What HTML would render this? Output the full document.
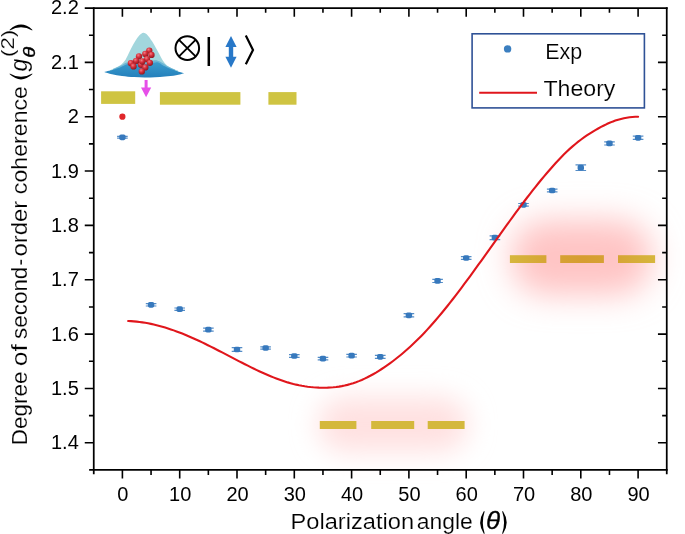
<!DOCTYPE html>
<html><head><meta charset="utf-8"><title>g2 vs polarization angle</title>
<style>html,body{margin:0;padding:0;background:#fff;}body{width:685px;height:534px;overflow:hidden;}svg{display:block;will-change:transform;}text{font-family:"Liberation Sans",sans-serif;fill:#000;}</style>
</head><body>
<svg width="685" height="534" viewBox="0 0 685 534">
<defs>
<radialGradient id="sph" cx="38%" cy="32%" r="70%"><stop offset="0" stop-color="#f08088"/><stop offset="0.45" stop-color="#d8303c"/><stop offset="1" stop-color="#8c1820"/></radialGradient>
<linearGradient id="barO" gradientUnits="userSpaceOnUse" x1="510" x2="655" y1="0" y2="0"><stop offset="0" stop-color="#d6b63c"/><stop offset="0.3" stop-color="#d6a234"/><stop offset="0.5" stop-color="#d69d31"/><stop offset="0.7" stop-color="#d6a234"/><stop offset="1" stop-color="#d6b63c"/></linearGradient>
<linearGradient id="base" x1="0" x2="0" y1="0" y2="1"><stop offset="0" stop-color="#3a9ccc"/><stop offset="1" stop-color="#2480bc"/></linearGradient>
<filter id="blurA" x="-50%" y="-100%" width="200%" height="300%"><feGaussianBlur stdDeviation="16"/></filter>
<filter id="blurB" x="-50%" y="-120%" width="200%" height="340%"><feGaussianBlur stdDeviation="13.5"/></filter>
</defs>
<rect width="685" height="534" fill="#fff"/>
<rect x="511" y="220" width="141" height="75" rx="35" ry="35" fill="#ffc4c4" filter="url(#blurA)"/>
<rect x="318" y="397" width="150" height="55" rx="27" ry="27" fill="#ffe1e1" filter="url(#blurB)"/>
<rect x="101.1" y="91.3" width="34.1" height="12.6" fill="#cfc442"/>
<rect x="159.9" y="92.1" width="80.5" height="12.6" fill="#cfc442"/>
<rect x="268.4" y="92.1" width="28.1" height="12.6" fill="#cfc442"/>
<rect x="509.9" y="255.2" width="36.5" height="7.8" fill="url(#barO)"/>
<rect x="560.2" y="255.2" width="43.7" height="7.8" fill="url(#barO)"/>
<rect x="618" y="255.2" width="37.1" height="7.8" fill="url(#barO)"/>
<rect x="319.8" y="421" width="36.6" height="8" fill="#d4b83c"/>
<rect x="371.2" y="421" width="43.0" height="8" fill="#d4b83c"/>
<rect x="427.7" y="421" width="36.9" height="8" fill="#d4b83c"/>
<g stroke="#3779bd" stroke-width="1.2" fill="#3779bd">
<path d="M117.1,136.4H127.7M117.1,138.2H127.7" fill="none" stroke-opacity="0.85"/>
<rect x="119.20" y="134.45" width="6.4" height="5.7" rx="1.8" ry="1.8" stroke="none"/>
<path d="M145.8,303.6H156.4M145.8,306.0H156.4" fill="none" stroke-opacity="0.85"/>
<rect x="147.85" y="301.95" width="6.4" height="5.7" rx="1.8" ry="1.8" stroke="none"/>
<path d="M174.4,308.0H185.0M174.4,310.4H185.0" fill="none" stroke-opacity="0.85"/>
<rect x="176.50" y="306.35" width="6.4" height="5.7" rx="1.8" ry="1.8" stroke="none"/>
<path d="M203.1,328.1H213.7M203.1,331.1H213.7" fill="none" stroke-opacity="0.85"/>
<rect x="205.15" y="326.75" width="6.4" height="5.7" rx="1.8" ry="1.8" stroke="none"/>
<path d="M231.7,347.7H242.3M231.7,351.3H242.3" fill="none" stroke-opacity="0.85"/>
<rect x="233.80" y="346.65" width="6.4" height="5.7" rx="1.8" ry="1.8" stroke="none"/>
<path d="M260.3,346.8H270.9M260.3,349.2H270.9" fill="none" stroke-opacity="0.85"/>
<rect x="262.45" y="345.15" width="6.4" height="5.7" rx="1.8" ry="1.8" stroke="none"/>
<path d="M289.0,354.6H299.6M289.0,357.4H299.6" fill="none" stroke-opacity="0.85"/>
<rect x="291.10" y="353.15" width="6.4" height="5.7" rx="1.8" ry="1.8" stroke="none"/>
<path d="M317.7,357.4H328.3M317.7,359.8H328.3" fill="none" stroke-opacity="0.85"/>
<rect x="319.75" y="355.75" width="6.4" height="5.7" rx="1.8" ry="1.8" stroke="none"/>
<path d="M346.3,354.4H356.9M346.3,357.0H356.9" fill="none" stroke-opacity="0.85"/>
<rect x="348.40" y="352.85" width="6.4" height="5.7" rx="1.8" ry="1.8" stroke="none"/>
<path d="M374.9,355.3H385.6M374.9,358.3H385.6" fill="none" stroke-opacity="0.85"/>
<rect x="377.05" y="353.95" width="6.4" height="5.7" rx="1.8" ry="1.8" stroke="none"/>
<path d="M403.6,313.7H414.2M403.6,316.9H414.2" fill="none" stroke-opacity="0.85"/>
<rect x="405.70" y="312.45" width="6.4" height="5.7" rx="1.8" ry="1.8" stroke="none"/>
<path d="M432.3,279.3H442.9M432.3,282.5H442.9" fill="none" stroke-opacity="0.85"/>
<rect x="434.35" y="278.05" width="6.4" height="5.7" rx="1.8" ry="1.8" stroke="none"/>
<path d="M460.9,256.7H471.5M460.9,259.3H471.5" fill="none" stroke-opacity="0.85"/>
<rect x="463.00" y="255.15" width="6.4" height="5.7" rx="1.8" ry="1.8" stroke="none"/>
<path d="M489.6,235.8H500.2M489.6,239.6H500.2" fill="none" stroke-opacity="0.85"/>
<rect x="491.65" y="234.85" width="6.4" height="5.7" rx="1.8" ry="1.8" stroke="none"/>
<path d="M518.2,203.5H528.8M518.2,206.1H528.8" fill="none" stroke-opacity="0.85"/>
<rect x="520.30" y="201.95" width="6.4" height="5.7" rx="1.8" ry="1.8" stroke="none"/>
<path d="M546.9,189.1H557.5M546.9,191.9H557.5" fill="none" stroke-opacity="0.85"/>
<rect x="548.95" y="187.65" width="6.4" height="5.7" rx="1.8" ry="1.8" stroke="none"/>
<path d="M575.5,164.9H586.1M575.5,170.5H586.1" fill="none" stroke-opacity="0.85"/>
<rect x="577.60" y="164.85" width="6.4" height="5.7" rx="1.8" ry="1.8" stroke="none"/>
<path d="M604.2,141.8H614.8M604.2,145.0H614.8" fill="none" stroke-opacity="0.85"/>
<rect x="606.25" y="140.55" width="6.4" height="5.7" rx="1.8" ry="1.8" stroke="none"/>
<path d="M632.8,136.2H643.4M632.8,139.4H643.4" fill="none" stroke-opacity="0.85"/>
<rect x="634.90" y="134.95" width="6.4" height="5.7" rx="1.8" ry="1.8" stroke="none"/>
</g>
<path d="M128.13,320.98 L130.98,321.13 L133.83,321.35 L136.68,321.62 L139.53,321.96 L142.37,322.35 L145.22,322.81 L148.07,323.32 L150.92,323.89 L153.77,324.52 L156.62,325.20 L159.47,325.93 L162.32,326.72 L165.17,327.56 L168.02,328.45 L170.86,329.39 L173.71,330.38 L176.56,331.41 L179.41,332.48 L182.26,333.60 L185.11,334.76 L187.96,335.95 L190.81,337.18 L193.66,338.45 L196.51,339.75 L199.35,341.07 L202.20,342.42 L205.05,343.80 L207.90,345.20 L210.75,346.62 L213.60,348.06 L216.45,349.51 L219.30,350.97 L222.15,352.44 L225.00,353.92 L227.84,355.41 L230.69,356.89 L233.54,358.37 L236.39,359.85 L239.24,361.32 L242.09,362.79 L244.94,364.23 L247.79,365.67 L250.64,367.08 L253.49,368.47 L256.33,369.84 L259.18,371.18 L262.03,372.49 L264.88,373.77 L267.73,375.01 L270.58,376.21 L273.43,377.37 L276.28,378.48 L279.13,379.54 L281.98,380.54 L284.82,381.49 L287.67,382.38 L290.52,383.20 L293.37,383.96 L296.22,384.65 L299.07,385.27 L301.92,385.82 L304.77,386.30 L307.62,386.71 L310.47,387.05 L313.31,387.32 L316.16,387.52 L319.01,387.66 L321.86,387.73 L324.71,387.73 L327.56,387.66 L330.41,387.51 L333.26,387.29 L336.11,386.99 L338.96,386.60 L341.80,386.12 L344.65,385.54 L347.50,384.87 L350.35,384.10 L353.20,383.22 L356.05,382.23 L358.90,381.14 L361.75,379.95 L364.60,378.66 L367.45,377.27 L370.29,375.79 L373.14,374.21 L375.99,372.56 L378.84,370.82 L381.69,369.00 L384.54,367.10 L387.39,365.13 L390.24,363.09 L393.09,360.98 L395.94,358.79 L398.78,356.53 L401.63,354.20 L404.48,351.79 L407.33,349.30 L410.18,346.73 L413.03,344.09 L415.88,341.36 L418.73,338.54 L421.58,335.65 L424.43,332.68 L427.27,329.62 L430.12,326.49 L432.97,323.29 L435.82,320.01 L438.67,316.66 L441.52,313.25 L444.37,309.77 L447.22,306.24 L450.07,302.64 L452.92,299.00 L455.76,295.31 L458.61,291.58 L461.46,287.80 L464.31,283.99 L467.16,280.14 L470.01,276.26 L472.86,272.36 L475.71,268.43 L478.56,264.48 L481.41,260.52 L484.25,256.54 L487.10,252.55 L489.95,248.56 L492.80,244.56 L495.65,240.57 L498.50,236.58 L501.35,232.60 L504.20,228.63 L507.05,224.68 L509.90,220.75 L512.74,216.84 L515.59,212.96 L518.44,209.10 L521.29,205.28 L524.14,201.50 L526.99,197.76 L529.84,194.06 L532.69,190.41 L535.54,186.81 L538.39,183.26 L541.23,179.77 L544.08,176.35 L546.93,172.98 L549.78,169.69 L552.63,166.46 L555.48,163.31 L558.33,160.24 L561.18,157.24 L564.03,154.33 L566.88,151.54 L569.72,148.88 L572.57,146.35 L575.42,143.95 L578.27,141.66 L581.12,139.49 L583.97,137.42 L586.82,135.46 L589.67,133.59 L592.52,131.81 L595.37,130.11 L598.21,128.50 L601.06,126.95 L603.91,125.47 L606.76,124.08 L609.61,122.80 L612.46,121.65 L615.31,120.61 L618.16,119.69 L621.01,118.90 L623.86,118.22 L626.70,117.67 L629.55,117.24 L632.40,116.93 L635.25,116.74 L638.10,116.68" fill="none" stroke="#e0161c" stroke-width="2.1" stroke-linecap="round" stroke-linejoin="round"/>
<circle cx="122.4" cy="116.7" r="3.1" fill="#e0262a"/>
<g stroke="#000" stroke-width="1.75" fill="none" stroke-linecap="butt">
<path d="M93.75,7.13V474.28"/>
<path d="M666.75,7.13V474.28"/>
<path d="M84.75,8.00H667.62"/>
<path d="M89.15,469.98H667.62"/>
</g>
<g stroke="#000" stroke-width="1.6" fill="none">
<path d="M122.40,469.98v8.6M122.40,8.00v8.8"/>
<path d="M151.05,469.98v5M151.05,8.00v4.8"/>
<path d="M179.70,469.98v8.6M179.70,8.00v8.8"/>
<path d="M208.35,469.98v5M208.35,8.00v4.8"/>
<path d="M237.00,469.98v8.6M237.00,8.00v8.8"/>
<path d="M265.65,469.98v5M265.65,8.00v4.8"/>
<path d="M294.30,469.98v8.6M294.30,8.00v8.8"/>
<path d="M322.95,469.98v5M322.95,8.00v4.8"/>
<path d="M351.60,469.98v8.6M351.60,8.00v8.8"/>
<path d="M380.25,469.98v5M380.25,8.00v4.8"/>
<path d="M408.90,469.98v8.6M408.90,8.00v8.8"/>
<path d="M437.55,469.98v5M437.55,8.00v4.8"/>
<path d="M466.20,469.98v8.6M466.20,8.00v8.8"/>
<path d="M494.85,469.98v5M494.85,8.00v4.8"/>
<path d="M523.50,469.98v8.6M523.50,8.00v8.8"/>
<path d="M552.15,469.98v5M552.15,8.00v4.8"/>
<path d="M580.80,469.98v8.6M580.80,8.00v8.8"/>
<path d="M609.45,469.98v5M609.45,8.00v4.8"/>
<path d="M638.10,469.98v8.6M638.10,8.00v8.8"/>
<path d="M93.75,442.80h-9M666.75,442.80h-8.8"/>
<path d="M93.75,415.63h-4.8M666.75,415.63h-4.6"/>
<path d="M93.75,388.45h-9M666.75,388.45h-8.8"/>
<path d="M93.75,361.28h-4.8M666.75,361.28h-4.6"/>
<path d="M93.75,334.10h-9M666.75,334.10h-8.8"/>
<path d="M93.75,306.93h-4.8M666.75,306.93h-4.6"/>
<path d="M93.75,279.75h-9M666.75,279.75h-8.8"/>
<path d="M93.75,252.58h-4.8M666.75,252.58h-4.6"/>
<path d="M93.75,225.40h-9M666.75,225.40h-8.8"/>
<path d="M93.75,198.23h-4.8M666.75,198.23h-4.6"/>
<path d="M93.75,171.05h-9M666.75,171.05h-8.8"/>
<path d="M93.75,143.88h-4.8M666.75,143.88h-4.6"/>
<path d="M93.75,116.70h-9M666.75,116.70h-8.8"/>
<path d="M93.75,89.53h-4.8M666.75,89.53h-4.6"/>
<path d="M93.75,62.35h-9M666.75,62.35h-8.8"/>
<path d="M93.75,35.18h-4.8M666.75,35.18h-4.6"/>
</g>
<g font-size="20px">
<text x="122.9" y="501.3" text-anchor="middle">0</text>
<text x="180.2" y="501.3" text-anchor="middle">10</text>
<text x="237.5" y="501.3" text-anchor="middle">20</text>
<text x="294.8" y="501.3" text-anchor="middle">30</text>
<text x="352.1" y="501.3" text-anchor="middle">40</text>
<text x="409.4" y="501.3" text-anchor="middle">50</text>
<text x="466.7" y="501.3" text-anchor="middle">60</text>
<text x="524.0" y="501.3" text-anchor="middle">70</text>
<text x="581.3" y="501.3" text-anchor="middle">80</text>
<text x="638.6" y="501.3" text-anchor="middle">90</text>
<text x="78.8" y="449.4" text-anchor="end">1.4</text>
<text x="78.8" y="395.1" text-anchor="end">1.5</text>
<text x="78.8" y="340.7" text-anchor="end">1.6</text>
<text x="78.8" y="286.4" text-anchor="end">1.7</text>
<text x="78.8" y="232.0" text-anchor="end">1.8</text>
<text x="78.8" y="177.7" text-anchor="end">1.9</text>
<text x="78.8" y="123.3" text-anchor="end">2</text>
<text x="78.8" y="69.0" text-anchor="end">2.1</text>
<text x="78.8" y="14.0" text-anchor="end">2.2</text>
</g>
<text transform="translate(290.55,529.00) scale(1.0746,1.0000)" font-family='"Liberation Sans"' font-size="22.0px" stroke="#fff" stroke-width="0.16">Polarization</text>
<text transform="translate(416.83,529.00) scale(1.0401,1.0000)" font-family='"Liberation Sans"' font-size="22.0px" stroke="#fff" stroke-width="0.16">angle</text>
<path d="M483.80,511.20 Q476.60,522.50 483.80,533.80 L484.70,533.80 Q481.00,522.50 484.70,511.20 Z" fill="#000"/>
<path d="M503.00,511.20 Q510.40,522.50 503.00,533.80 L502.10,533.80 Q506.00,522.50 502.10,511.20 Z" fill="#000"/>
<text transform="translate(486.07,529.30) scale(1.2071,1.1495)" font-family='"Liberation Serif"' font-size="21.5px" font-style="italic" stroke="#000" stroke-width="0.25">θ</text>
<g transform="translate(27.3,443.3) rotate(-90)">
<text transform="translate(-1.86,0.00) scale(1.0223,1.0000)" font-family='"Liberation Sans"' font-size="22.0px" stroke="#fff" stroke-width="0.16">Degree</text>
<text transform="translate(76.97,0.00) scale(1.2045,1.0000)" font-family='"Liberation Sans"' font-size="22.0px" stroke="#fff" stroke-width="0.16">of</text>
<text transform="translate(104.38,0.00) scale(1.0186,1.0000)" font-family='"Liberation Sans"' font-size="22.0px" stroke="#fff" stroke-width="0.16">second</text>
<text transform="translate(177.54,0.00) scale(0.9647,1.0000)" font-family='"Liberation Sans"' font-size="22.0px" stroke="#fff" stroke-width="0.16">-</text>
<text transform="translate(186.78,0.00) scale(1.0857,1.0000)" font-family='"Liberation Sans"' font-size="22.0px" stroke="#fff" stroke-width="0.16">order</text>
<text transform="translate(249.11,0.00) scale(1.0538,1.0000)" font-family='"Liberation Sans"' font-size="22.0px" stroke="#fff" stroke-width="0.16">coherence</text>
<path d="M369.00,-17.60 Q358.80,-6.30 369.00,5.00 L369.90,5.00 Q363.20,-6.30 369.90,-17.60 Z" fill="#000"/>
<path d="M413.60,-17.60 Q423.80,-6.30 413.60,5.00 L412.70,5.00 Q419.40,-6.30 412.70,-17.60 Z" fill="#000"/>
<text transform="translate(371.84,-0.30) scale(0.9323,1.0000)" font-family='"Liberation Sans"' font-size="24.6px" font-style="italic" stroke="#fff" stroke-width="0.16">g</text>
<text transform="translate(385.44,8.00) scale(1.3492,1.1429)" font-family='"Liberation Serif"' font-size="15px" font-style="italic" stroke="#000" stroke-width="0.3">θ</text>
<text transform="translate(386.41,-13.40) scale(1.2675,1.0000)" font-family='"Liberation Sans"' font-size="17.5px" stroke="#fff" stroke-width="0.16">(2)</text>
</g>
<path d="M110.00,70.20 C111.00,69.77 114.17,68.50 116.00,67.60 C117.83,66.70 119.50,65.97 121.00,64.80 C122.50,63.63 123.78,62.35 125.00,60.60 C126.22,58.85 127.22,56.45 128.30,54.30 C129.38,52.15 130.33,49.90 131.50,47.70 C132.67,45.50 134.02,43.12 135.30,41.10 C136.58,39.08 137.85,36.98 139.20,35.60 C140.55,34.22 141.97,32.83 143.40,32.80 C144.83,32.77 146.38,34.02 147.80,35.40 C149.22,36.78 150.57,39.05 151.90,41.10 C153.23,43.15 154.55,45.50 155.80,47.70 C157.05,49.90 158.23,52.15 159.40,54.30 C160.57,56.45 161.53,58.72 162.80,60.60 C164.07,62.48 165.47,64.30 167.00,65.60 C168.53,66.90 170.17,67.57 172.00,68.40 C173.83,69.23 177.00,70.23 178.00,70.60 L178,73 L110,73 Z" fill="#a2d6dd"/>
<path d="M113.00,69.20 C114.33,68.60 118.67,66.70 121.00,65.60 C123.33,64.50 124.83,63.33 127.00,62.60 C129.17,61.87 131.33,61.37 134.00,61.20 C136.67,61.03 140.17,61.63 143.00,61.60 C145.83,61.57 148.67,61.20 151.00,61.00 C153.33,60.80 155.08,60.07 157.00,60.40 C158.92,60.73 160.67,61.97 162.50,63.00 C164.33,64.03 165.92,65.50 168.00,66.60 C170.08,67.70 173.83,69.10 175.00,69.60 L175,73 L113,73 Z" fill="#58aad2" opacity="0.75"/>
<path d="M104.20,72.00 C105.00,71.78 107.37,71.13 109.00,70.70 C110.63,70.27 112.00,70.03 114.00,69.40 C116.00,68.77 118.95,67.73 121.00,66.90 C123.05,66.07 124.47,65.07 126.30,64.40 C128.13,63.73 130.05,63.03 132.00,62.90 C133.95,62.77 135.83,63.38 138.00,63.60 C140.17,63.82 142.83,64.23 145.00,64.20 C147.17,64.17 149.08,63.72 151.00,63.40 C152.92,63.08 155.00,62.32 156.50,62.30 C158.00,62.28 158.90,62.78 160.00,63.30 C161.10,63.82 161.27,64.47 163.10,65.40 C164.93,66.33 168.52,67.90 171.00,68.90 C173.48,69.90 175.78,70.68 178.00,71.40 C180.22,72.12 183.25,72.90 184.30,73.20 C182.92,73.53 179.22,74.63 176.00,75.20 C172.78,75.77 168.50,76.27 165.00,76.60 C161.50,76.93 158.38,77.07 155.00,77.20 C151.62,77.33 148.20,77.43 144.70,77.40 C141.20,77.37 137.78,77.25 134.00,77.00 C130.22,76.75 125.67,76.35 122.00,75.90 C118.33,75.45 114.97,74.95 112.00,74.30 C109.03,73.65 105.50,72.38 104.20,72.00 Z" fill="url(#base)"/>
<circle cx="141.0" cy="64.8" r="3.15" fill="url(#sph)"/>
<circle cx="149.3" cy="50.6" r="3.15" fill="url(#sph)"/>
<circle cx="145.3" cy="53.9" r="3.15" fill="url(#sph)"/>
<circle cx="151.5" cy="54.9" r="3.15" fill="url(#sph)"/>
<circle cx="139" cy="56.3" r="3.15" fill="url(#sph)"/>
<circle cx="147" cy="59.1" r="3.15" fill="url(#sph)"/>
<circle cx="136.1" cy="60.9" r="3.15" fill="url(#sph)"/>
<circle cx="142.3" cy="61.5" r="3.15" fill="url(#sph)"/>
<circle cx="149.9" cy="62.8" r="3.15" fill="url(#sph)"/>
<circle cx="130.9" cy="63.2" r="3.15" fill="url(#sph)"/>
<circle cx="133.5" cy="66.4" r="3.15" fill="url(#sph)"/>
<circle cx="145.3" cy="67.4" r="3.15" fill="url(#sph)"/>
<circle cx="141.8" cy="71.4" r="3.15" fill="url(#sph)"/>
<path d="M144.6,80 h3 v7.4 h3.6 L146.1,97.2 L141,87.4 h3.6 Z" fill="#e64fe8"/>
<circle cx="187.3" cy="48.1" r="11.8" fill="none" stroke="#000" stroke-width="2"/>
<path d="M179,39.8 L195.6,56.4 M195.6,39.8 L179,56.4" stroke="#000" stroke-width="1.9" fill="none"/>
<path d="M208.8,37 V66" stroke="#000" stroke-width="2.5" fill="none"/>
<path d="M231,36 L236.6,47 H233.2 V56.8 H236.6 L231,67.7 L225.4,56.8 H228.8 V47 H225.4 Z" fill="#2878c8"/>
<path d="M245.8,35.6 L253,49.9 L245.8,64.3" stroke="#000" stroke-width="2.2" fill="none" stroke-linejoin="miter"/>
<rect x="472.1" y="33.8" width="172.3" height="74.1" fill="#fff" stroke="#2f5296" stroke-width="1.6"/>
<circle cx="507.6" cy="48.9" r="3.7" fill="#3b7fc0"/>
<path d="M479.2,92.8H537" stroke="#e0161c" stroke-width="2.1" fill="none"/>
<text transform="translate(545.23,59.20) scale(0.9657,1.0000)" font-family='"Liberation Sans"' font-size="22.2px" stroke="#fff" stroke-width="0.16">Exp</text>
<text transform="translate(543.38,96.20) scale(1.0431,1.0000)" font-family='"Liberation Sans"' font-size="22.2px" stroke="#fff" stroke-width="0.16">Theory</text>
</svg></body></html>
